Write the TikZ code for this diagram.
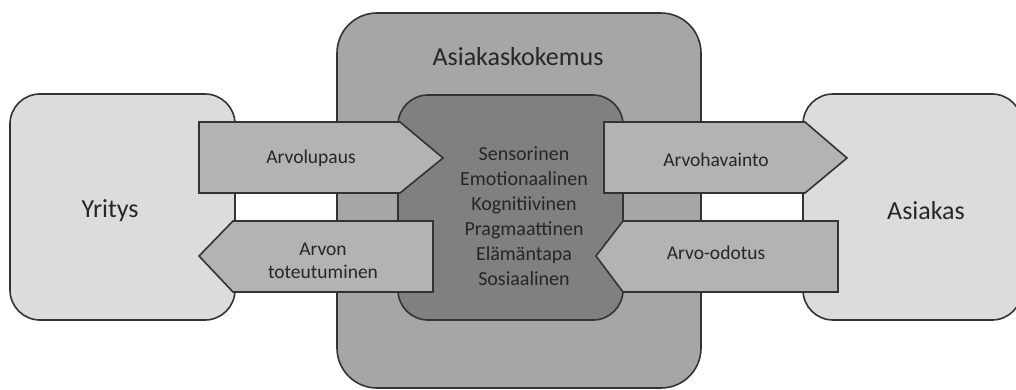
\documentclass[tikz,border=0pt]{standalone}
\usepackage{fontspec}
\setmainfont{Carlito}
\definecolor{sidefill}{HTML}{DCDCDC}
\definecolor{outerfill}{HTML}{A6A6A6}
\definecolor{innerfill}{HTML}{808080}
\definecolor{arrowfill}{HTML}{B3B3B3}
\definecolor{edge}{HTML}{333333}
\begin{document}
\begin{tikzpicture}[x=1pt,y=-1pt,
  box/.style={draw=edge,line width=1.6pt},
  arrowshape/.style={draw=edge,line width=1.6pt,fill=arrowfill,line join=miter},
  bigtext/.style={font=\fontsize{26}{30}\selectfont,text=black!85},
  arrowtext/.style={font=\fontsize{19.5}{23}\selectfont,text=black!85,align=center},
  listtext/.style={font=\fontsize{20}{25}\selectfont,text=black!85,align=center}]
\useasboundingbox (0,0) rectangle (1016,390);
% side boxes
\draw[box,fill=sidefill,rounded corners=30pt] (10,94) rectangle (235,320);
\draw[box,fill=sidefill,rounded corners=30pt] (803,94) rectangle (1022,320);
% outer and inner boxes
\draw[box,fill=outerfill,rounded corners=40pt] (337,13) rectangle (701,388);
\draw[box,fill=innerfill,rounded corners=30pt] (398,95) rectangle (623,320);
% arrows
\draw[arrowshape] (199,122) -- (400,122) -- (443,158) -- (400,193) -- (199,193) -- cycle;
\draw[arrowshape] (433,221) -- (233,221) -- (199,256) -- (233,292) -- (433,292) -- cycle;
\draw[arrowshape] (604,122) -- (805,122) -- (847,158) -- (805,193) -- (604,193) -- cycle;
\draw[arrowshape] (838,221) -- (623,221) -- (596,256) -- (623,292) -- (838,292) -- cycle;
% labels
\node[bigtext] (yritys) at (110,211) {Yritys};
\node[bigtext] (asiakas) at (926,211) {Asiakas};
\node[bigtext] (kokemus) at (518,57) {Asiakaskokemus};
\node[listtext] (lista) at (524,216) {Sensorinen\\Emotionaalinen\\Kognitiivinen\\Pragmaattinen\\Elämäntapa\\Sosiaalinen};
\node[arrowtext] (lupaus) at (311,158) {Arvolupaus};
\node[arrowtext] (toteutuminen) at (323,261) {Arvon\\toteutuminen};
\node[arrowtext] (havainto) at (716,160) {Arvohavainto};
\node[arrowtext] (odotus) at (716,253) {Arvo-odotus};
\end{tikzpicture}
\end{document}
